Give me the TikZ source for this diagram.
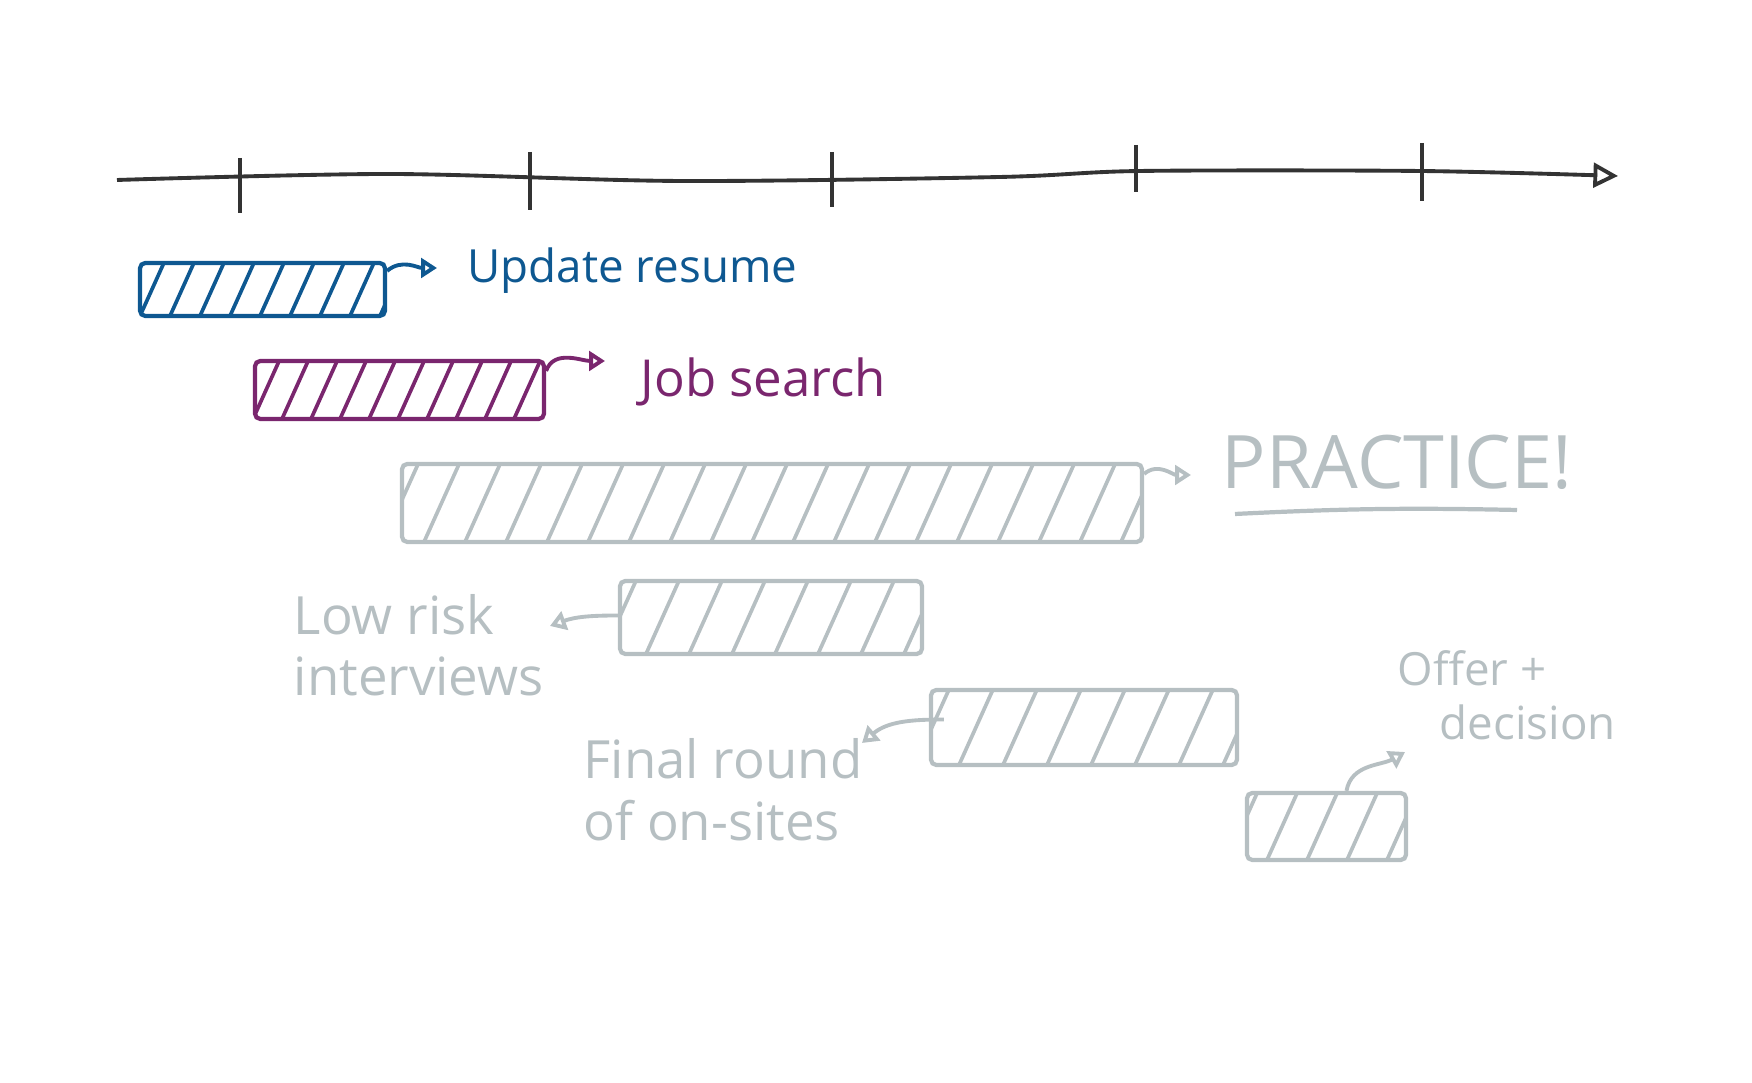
\documentclass[tikz,border=0pt]{standalone}
\usepackage{fontspec}
\setmainfont{Open Sans}
\usetikzlibrary{arrows.meta}
\definecolor{resumeblue}{RGB}{14,88,145}
\definecolor{searchpurple}{RGB}{122,38,110}
\definecolor{plangray}{RGB}{182,191,194}
\definecolor{axisgray}{RGB}{51,51,51}
\tikzset{>={Triangle[open,length=4.5pt,width=5.5pt]}}
\tikzset{
  bar/.style 2 args={
    draw=#1, line width=1.2pt, rounded corners=1.5pt, inner sep=0pt,
    path picture={
      \foreach \k in {0,...,30}
        \draw[#1,line width=1.05pt]
          ([xshift=\k*#2-0.6cm]path picture bounding box.south west) -- ++(0.45,1);
    }
  },
  tasktext/.style={text=#1, anchor=west, inner sep=0pt, align=left},
  link/.style={->, draw=#1, line width=1.1pt},
}

\begin{document}
\begin{tikzpicture}
  \useasboundingbox (0,0) rectangle (17.52,10.83);
  % timeline
  \draw[axisgray, line width=1.1pt, -{Triangle[open,length=7pt,width=7pt]}]
    plot[smooth] coordinates {(1.17,9.03) (3.9,9.09) (6.8,9.02) (10.0,9.06)
      (11.4,9.12) (14.2,9.12) (16.18,9.07)};
  \foreach \x/\top/\bot in {2.40/9.25/8.70, 5.30/9.31/8.73, 8.32/9.31/8.76,
      11.36/9.38/8.91, 14.22/9.40/8.82}
    \draw[axisgray, line width=1.1pt] (\x,\top) -- (\x,\bot);

  % bars
  \node[bar={resumeblue}{0.3cm}, minimum width=2.45cm, minimum height=0.53cm]
    (resume) at (2.625,7.935) {};
  \node[bar={searchpurple}{0.29cm}, minimum width=2.89cm, minimum height=0.58cm]
    (search) at (3.995,6.93) {};
  \node[bar={plangray}{0.41cm}, minimum width=7.40cm, minimum height=0.78cm]
    (practice) at (7.72,5.80) {};
  \node[bar={plangray}{0.43cm}, minimum width=3.02cm, minimum height=0.73cm]
    (lowrisk) at (7.71,4.655) {};
  \node[bar={plangray}{0.44cm}, minimum width=3.06cm, minimum height=0.75cm]
    (final) at (10.84,3.555) {};
  \node[bar={plangray}{0.40cm}, minimum width=1.59cm, minimum height=0.67cm]
    (offer) at (13.265,2.565) {};

  % labels
  \node[tasktext=resumeblue, font=\fontsize{13pt}{16pt}\selectfont]
    (resumetext) at (4.67,8.12) {Update resume};
  \node[tasktext=searchpurple, font=\fontsize{14.5pt}{17pt}\selectfont]
    (searchtext) at (6.40,7.01) {Job search};
  \node[tasktext=plangray, font=\fontsize{21pt}{25pt}\selectfont]
    (practicetext) at (12.21,6.21) {PRACTICE!};
  \node[tasktext=plangray, font=\fontsize{15pt}{17.5pt}\selectfont]
    (lowrisktext) at (2.93,4.38) {Low risk\\interviews};
  \node[tasktext=plangray, font=\fontsize{15pt}{17.5pt}\selectfont]
    (finaltext) at (5.83,2.935) {Final round\\of on-sites};
  \node[tasktext=plangray, font=\fontsize{13pt}{15.5pt}\selectfont]
    (offertext) at (13.97,3.875) {Offer +\\\hspace{0.42cm}decision};
  \draw[plangray, line width=1.2pt] (12.35,5.69) to[bend left=2] (15.17,5.73);

  % arrow ends
  \coordinate (lowriskend) at (5.50,4.57);
  \coordinate (finalend) at (8.62,3.40);
  \coordinate (offerend) at (14.05,3.31);

  % connectors
  \draw[link=resumeblue] ([yshift=-0.1cm]resume.north east)
    to[out=40,in=180] ([shift={(-0.3,0.03)}]resumetext.west);
  \draw[link=searchpurple] ([yshift=-0.12cm]search.north east)
    to[out=70,in=180] ([shift={(-0.35,0.21)}]searchtext.west);
  \draw[link=plangray] ([yshift=-0.12cm]practice.north east)
    to[out=40,in=180] ([shift={(-0.3,-0.13)}]practicetext.west);
  \draw[link=plangray] ([yshift=0.02cm]lowrisk.west)
    to[out=180,in=20] (lowriskend);
  \draw[link=plangray] ([shift={(0.15,0.08)}]final.west)
    to[out=180,in=40] (finalend);
  \draw[link=plangray] ([xshift=0.2cm]offer.north)
    to[out=80,in=210] (offerend);
\end{tikzpicture}
\end{document}
